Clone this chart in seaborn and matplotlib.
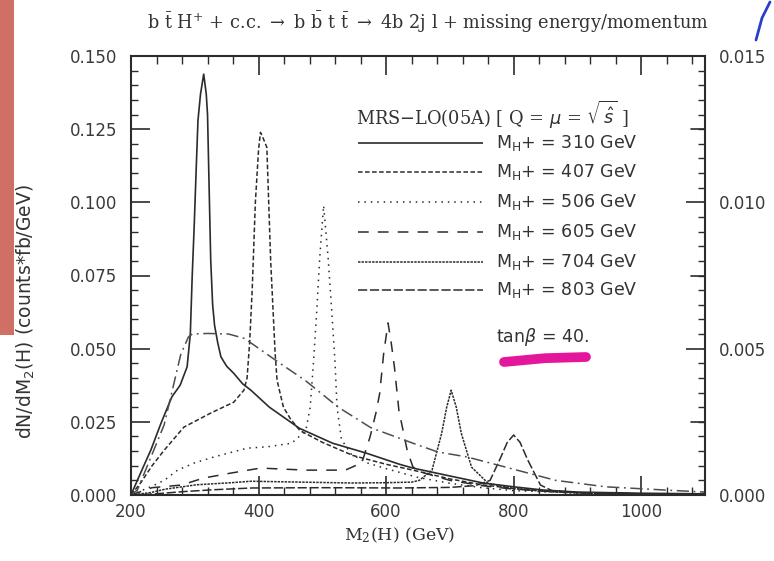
import numpy as np
import pandas as pd
import matplotlib
matplotlib.use("Agg")
import matplotlib.pyplot as plt
from matplotlib.lines import Line2D
from matplotlib.patches import Rectangle
from matplotlib.ticker import MultipleLocator
import seaborn as sns

# ---- signal curves: M2(H) in GeV, dN/dM2(H) in counts*fb/GeV ----
m_310 = [200, 215, 231, 247, 264, 277, 288, 293, 296, 299, 302, 305, 309, 314, 318, 320,
         323, 325, 328, 331, 336, 341, 350, 361, 375, 388, 417, 464, 516, 569, 621, 642,
         700, 752, 800, 846, 900, 1000, 1100]
v_310 = [0.0, 0.0075, 0.0153, 0.0245, 0.0335, 0.0375, 0.0438, 0.055, 0.075, 0.0914, 0.110,
         0.128, 0.137, 0.1438, 0.137, 0.130, 0.100, 0.0802, 0.065, 0.058, 0.052, 0.0472,
         0.044, 0.0416, 0.038, 0.0358, 0.030, 0.0228, 0.0177, 0.0143, 0.0105, 0.0092,
         0.0065, 0.0041, 0.0028, 0.0017, 0.0010, 0.0006, 0.0004]

m_407 = [200, 215, 233, 252, 283, 325, 361, 377, 382, 386, 390, 395, 400, 403, 407, 413,
         419, 426, 429, 439, 450, 465, 500, 548, 600, 642, 700, 750, 800, 850, 900, 1000, 1100]
v_407 = [0.0, 0.0041, 0.010, 0.0153, 0.0232, 0.028, 0.0317, 0.0358, 0.040, 0.052, 0.070,
         0.100, 0.118, 0.1239, 0.122, 0.1188, 0.080, 0.0484, 0.0392, 0.030, 0.026, 0.022,
         0.018, 0.0135, 0.0105, 0.0085, 0.0055, 0.0035, 0.0022, 0.0013, 0.0008, 0.0004, 0.0002]

m_506 = [200, 233, 252, 273, 300, 330, 382, 415, 452, 474, 481, 486, 491, 496, 502, 509,
         515, 520, 523, 530, 545, 570, 600, 650, 700, 750, 800, 900, 1000, 1100]
v_506 = [0.0, 0.003, 0.005, 0.0085, 0.011, 0.013, 0.016, 0.0165, 0.0177, 0.022, 0.030,
         0.045, 0.062, 0.0813, 0.0989, 0.0813, 0.062, 0.045, 0.030, 0.019, 0.014, 0.011,
         0.009, 0.006, 0.004, 0.0025, 0.0015, 0.0007, 0.0003, 0.0002]

m_605 = [200, 233, 279, 314, 357, 403, 474, 536, 562, 575, 584, 590, 596, 603, 608, 613,
         620, 633, 642, 660, 700, 750, 800, 900, 1000, 1100]
v_605 = [0.0, 0.0025, 0.0034, 0.0058, 0.0075, 0.0092, 0.0085, 0.0085, 0.011, 0.020, 0.028,
         0.0348, 0.048, 0.0588, 0.052, 0.0438, 0.029, 0.0153, 0.0096, 0.0075, 0.005, 0.0032,
         0.002, 0.0008, 0.0004, 0.0002]

m_704 = [200, 230, 254, 303, 357, 388, 468, 545, 600, 640, 652, 672, 687, 695, 702, 710,
         718, 734, 760, 800, 850, 900, 1000, 1100]
v_704 = [0.0, 0.0008, 0.0020, 0.0035, 0.0042, 0.0047, 0.0044, 0.0041, 0.0042, 0.0044,
         0.005, 0.0085, 0.021, 0.030, 0.0358, 0.030, 0.021, 0.0095, 0.004, 0.0022, 0.0012,
         0.0007, 0.0003, 0.0002]

m_803 = [200, 233, 285, 330, 390, 500, 621, 700, 740, 763, 778, 790, 800, 810, 822, 842,
         860, 900, 1000, 1100]
v_803 = [0.0, 0.0003, 0.0012, 0.0018, 0.0024, 0.0025, 0.0024, 0.0026, 0.0032, 0.005,
         0.012, 0.018, 0.0205, 0.018, 0.012, 0.0034, 0.0015, 0.0008, 0.0003, 0.0002]

# broad dash-dot distribution
m_bkg = [200, 210, 237, 252, 265, 278, 290, 296, 320, 353, 378, 427, 474, 525, 576, 642,
         681, 727, 793, 866, 944, 1037, 1100]
v_bkg = [0.0, 0.0017, 0.016, 0.024, 0.036, 0.048, 0.054, 0.055, 0.0552, 0.055, 0.0535,
         0.046, 0.039, 0.030, 0.023, 0.0177, 0.0147, 0.013, 0.0092, 0.005, 0.0028, 0.0017,
         0.001]

mass_labels = ["310", "407", "506", "605", "704", "803"]
x_ticks = [200, 400, 600, 800, 1000]
y_ticks_left = [0.000, 0.025, 0.050, 0.075, 0.100, 0.125, 0.150]
y_ticks_right = [0.000, 0.005, 0.010, 0.015]

ink = "#2b2b2b"
sns.set_style("ticks")
plt.rcParams["font.family"] = ["DejaVu Sans"]
plt.rcParams["mathtext.fontset"] = "dejavusans"

fig = plt.figure(figsize=(7.74, 5.61), dpi=100)
W, H = 774, 561
x0, x1, y0, y1 = 131, 705, 56, 495
ax = fig.add_axes([x0 / W, (H - y1) / H, (x1 - x0) / W, (y1 - y0) / H])

styles = [
    (m_310, v_310, (0, ()), 1.2),
    (m_407, v_407, (0, (3, 1.6)), 1.1),
    (m_506, v_506, (0, (1, 3.2)), 1.1),
    (m_605, v_605, (0, (7, 6)), 1.1),
    (m_704, v_704, (0, (1.6, 0.7)), 1.1),
    (m_803, v_803, (0, (6, 1.8)), 1.1),
]
for m, v, ls, lw in styles:
    df = pd.DataFrame({"M": m, "v": v})
    sns.lineplot(data=df, x="M", y="v", ax=ax, color=ink, linestyle=ls,
                 linewidth=lw, estimator=None, sort=False)

df_bkg = pd.DataFrame({"M": m_bkg, "v": v_bkg})
sns.lineplot(data=df_bkg, x="M", y="v", ax=ax, color="#4a4f4a",
             linestyle=(0, (8, 3, 1.2, 3)), linewidth=1.1, estimator=None, sort=False)

ax.set_xlim(200, 1100)
ax.set_ylim(0, 0.15)
ax.set_xticks(x_ticks)
ax.set_xticklabels([str(t) for t in x_ticks])
ax.xaxis.set_minor_locator(MultipleLocator(40))
ax.set_yticks(y_ticks_left)
ax.set_yticklabels([f"{t:.3f}" for t in y_ticks_left])
ax.yaxis.set_minor_locator(MultipleLocator(0.005))
ax.tick_params(which="both", direction="in", colors=ink, top=True, right=False,
               labelsize=12, labelcolor="#3a3a3a")
ax.tick_params(axis="x", which="major", length=14, width=1.2, pad=6)
ax.tick_params(axis="x", which="minor", length=6, width=1.0)
ax.tick_params(axis="y", which="major", length=14, width=1.2, pad=10)
ax.tick_params(axis="y", which="minor", length=5, width=1.0)
for s in ax.spines.values():
    s.set_color(ink)
    s.set_linewidth(1.5)
ax.set_xlabel("")
ax.set_ylabel("")

ax2 = ax.twinx()
ax2.set_ylim(0, 0.015)
ax2.set_yticks(y_ticks_right)
ax2.set_yticklabels([f"{t:.3f}" for t in y_ticks_right])
ax2.yaxis.set_minor_locator(MultipleLocator(0.0005))
ax2.tick_params(which="both", direction="in", colors=ink, labelsize=12, labelcolor="#3a3a3a")
ax2.tick_params(which="major", length=14, width=1.2, pad=10)
ax2.tick_params(which="minor", length=5, width=1.0)
for t in [0.0025, 0.0075, 0.0125]:
    ax2.plot([1.0 - 14 / 574, 1.0], [t / 0.015] * 2, transform=ax2.transAxes,
             color=ink, lw=1.2, clip_on=False)
for s in ax2.spines.values():
    s.set_visible(False)


def to_ax(px, py):
    return (px - x0) / (x1 - x0), (y1 - py) / (y1 - y0)


# legend block
hx, hy = to_ax(356, 115)
ax.text(hx, hy, r"MRS$-$LO(05A) [ Q = $\mu$ = $\sqrt{\,\hat{s}}$ ]", transform=ax.transAxes,
        family="DejaVu Serif", fontsize=12.8, color="#333333", va="center", ha="left")
rows_y = [143, 172, 202, 232, 262, 290]
for (m, v, ls, lw), lab, py in zip(styles, mass_labels, rows_y):
    ax_a, ay = to_ax(358, py)
    ax_b, _ = to_ax(483, py)
    ax.add_line(Line2D([ax_a, ax_b], [ay, ay], transform=ax.transAxes, color=ink,
                       linestyle=ls, linewidth=lw))
    tx, _ = to_ax(496, py)
    ax.text(tx, ay, r"M$_{\mathrm{H}}$+ = " + lab + " GeV", transform=ax.transAxes,
            fontsize=12.5, color="#333333", va="center", ha="left")
tx, ty = to_ax(496, 337)
ax.text(tx, ty, r"tan$\beta$ = 40.", transform=ax.transAxes, fontsize=12.5,
        color="#333333", va="center", ha="left")

# highlighter stroke
hx0, hy0 = to_ax(504, 362)
hx1, hy1 = to_ax(586, 357)
ax.plot([hx0, (hx0 + hx1) / 2, hx1], [hy0, (hy0 + hy1) / 2 + 0.003, hy1],
        transform=ax.transAxes, color="#e4179c", lw=7, solid_capstyle="round")

# title and axis labels
fig.text(428 / W, 1 - 22 / H,
         r"b $\bar{\mathrm{t}}$ H$^{+}$ + c.c. $\rightarrow$ b $\bar{\mathrm{b}}$ t $\bar{\mathrm{t}}$"
         r" $\rightarrow$ 4b 2j l + missing energy/momentum",
         family="DejaVu Serif", fontsize=12.8, color="#333333", ha="center", va="center",
         math_fontfamily="dejavuserif")
fig.text(400 / W, 1 - 535 / H, r"M$_2$(H) (GeV)", family="DejaVu Serif", fontsize=12.5,
         color="#333333", ha="center", va="center", math_fontfamily="dejavuserif")
fig.text(26 / W, 1 - 312 / H, r"dN/dM$_2$(H) (counts*fb/GeV)", fontsize=13.5,
         color="#333333", ha="center", va="center", rotation=90)

# scan edge marks
fig.patches.append(Rectangle((0, 1 - 335 / H), 14 / W, 335 / H, transform=fig.transFigure,
                             facecolor="#c8574a", edgecolor="none", alpha=0.85))
fig.lines.append(Line2D([756 / W, 762 / W, 770 / W], [1 - 40 / H, 1 - 18 / H, 1 - 2 / H],
                        transform=fig.transFigure, color="#2a3fc8", lw=2))

fig.savefig("out.png", dpi=100)
